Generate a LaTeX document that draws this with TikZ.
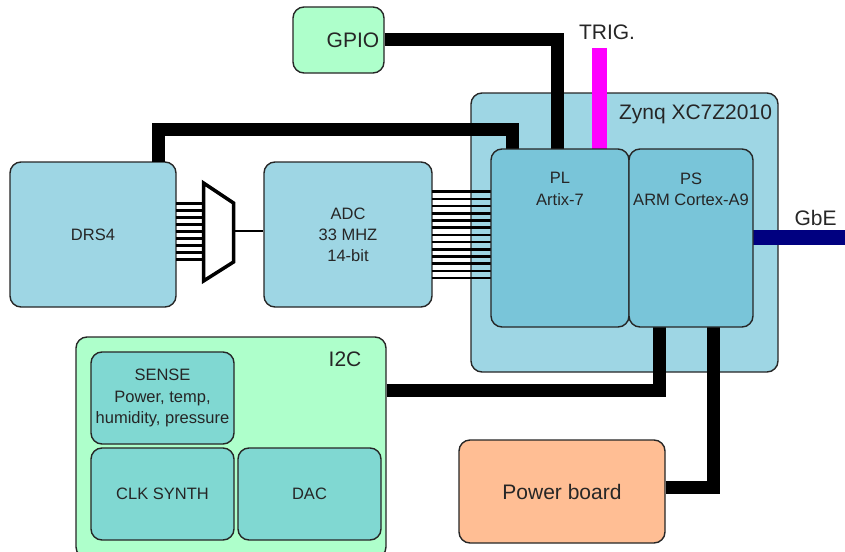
\documentclass[tikz,border=0pt]{standalone}
\usepackage{fontspec}
\setmainfont{Liberation Sans}
\definecolor{boxblue}{HTML}{9ED6E4}
\definecolor{coreblue}{HTML}{79C5D9}
\definecolor{mint}{HTML}{AEFFCB}
\definecolor{teal}{HTML}{80D8D2}
\definecolor{peach}{HTML}{FFBE94}
\definecolor{navybus}{HTML}{000080}
\definecolor{trigpink}{HTML}{FF00FF}
\tikzset{
  blockbox/.style={draw=black!85,line width=1.4pt,rounded corners=11pt,align=center,inner sep=0pt,text=black!85},
  bus/.style={line width=13pt,black},
  wire/.style={line width=2.5pt,black},
  biglabel/.style={font=\fontsize{21}{24}\selectfont,text=black!85,inner sep=0pt},
  smalllabel/.style={align=center,text=black!85,inner sep=0pt},
}
\newcommand{\blk}[7]{\node[blockbox,fill=#2,minimum width=#5pt-#3pt,minimum height=#6pt-#4pt] (#1) at ({(#3+#5)/2},{(#4+#6)/2}) {#7};}
\begin{document}
\begin{tikzpicture}[x=1pt,y=-1pt,font=\fontsize{16.5}{21.3}\selectfont]
\useasboundingbox (0,0) rectangle (845,551);
% Zynq
\blk{zynq}{boxblue}{471}{93}{778}{372}{}
\node[biglabel] (zynqlabel) at (695.5,114) {Zynq XC7Z2010};
% bus anchors
\coordinate (gpioJ) at (557.5,40);
\coordinate (drsB) at (512,129.5);
\coordinate (i2cJ) at (659.5,390.5);
\coordinate (pwrJ) at (713.5,487.5);
\coordinate (trigEnd) at (599.5,48);
\coordinate (gbeEnd) at (845,237.5);
\blk{gpio}{mint}{293}{7}{384}{73}{}
\node[biglabel] (gpiolabel) at (353,40) {GPIO};
\blk{drs}{boxblue}{10}{162}{176}{307}{DRS4}
\blk{adc}{boxblue}{264}{162}{432}{307}{}
\node[smalllabel] (adctext) at (348,235) {ADC\\33 MHZ\\14-bit};
\blk{i2c}{mint}{76}{337}{386}{558}{}
\node[biglabel] (i2clabel) at (345,359) {I2C};
\blk{sense}{teal}{91}{352}{234}{444}{}
\node[smalllabel] (sensetext) at (162.5,398) {SENSE\\Power, temp,\\humidity, pressure};
\blk{clk}{teal}{91}{448}{234}{540}{CLK SYNTH}
\blk{dac}{teal}{238}{448}{381}{540}{DAC}
\blk{power}{peach}{459}{440}{665}{543}{\fontsize{21}{24}\selectfont Power board}
% parallel lines
\foreach \i in {0,...,8} \draw[wire] (176,{203.5+\i*7}) -- (203,{203.5+\i*7});
\foreach \i in {0,...,12} \draw[wire] (432,{191.7+\i*7.2}) -- (491,{191.7+\i*7.2});
% mux
\draw[line width=3.5pt,black,fill=white,line join=miter] (203.5,183) -- (233.5,203) -- (233.5,262) -- (203.5,281) -- cycle;
\coordinate (muxE) at (233.5,231);
\draw[line width=2pt,black] (muxE) -- (adc.west |- muxE);
% buses
\draw[bus] (gpio.east |- gpioJ) -| (557.5,149);
\draw[bus] (158.5,162) |- (drsB) -- (512,149);
\draw[line width=15.5pt,trigpink] (trigEnd) -- (599.5,149);
\draw[line width=15pt,navybus] (753,237.5) -- (gbeEnd);
\draw[bus] (i2c.east |- i2cJ) -| (659.5,327);
\draw[bus] (power.east |- pwrJ) -| (713.5,327);
\blk{pl}{coreblue}{491}{149}{629}{327}{}
\blk{ps}{coreblue}{629}{149}{753}{327}{}
\node[smalllabel] (pltext) at (560,189) {PL\\Artix-7};
\node[smalllabel] (pstext) at (691,189) {PS\\ARM Cortex-A9};
\node[biglabel] (triglabel) at (607,32) {TRIG.};
\node[biglabel] (gbelabel) at (815.5,218) {GbE};
\end{tikzpicture}
\end{document}
